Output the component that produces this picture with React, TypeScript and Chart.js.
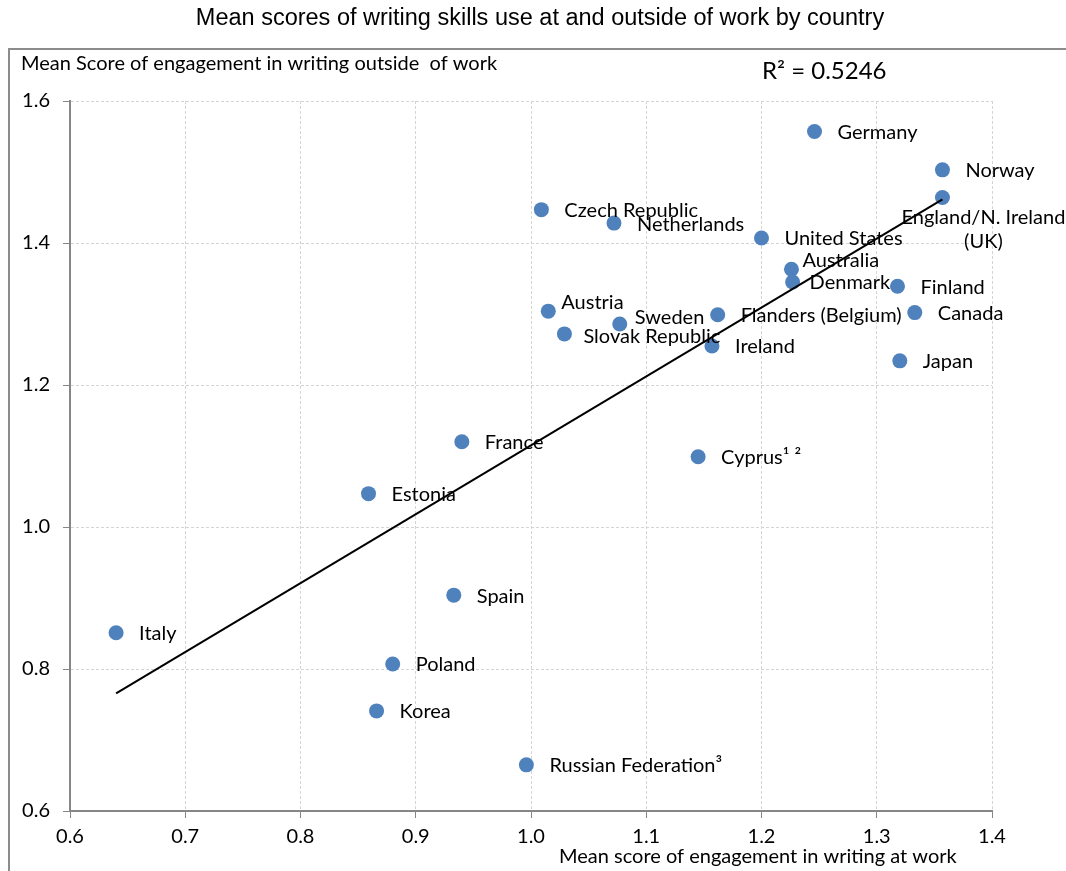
import { useEffect, useRef } from 'react';
import { Chart, registerables } from 'chart.js';

Chart.register(...registerables);

const chartTitle = 'Mean scores of writing skills use at and outside of work by country';
const yAxisTitle = 'Mean Score of engagement in writing outside  of work';
const xAxisTitle = 'Mean score of engagement in writing at work';
const rSquaredText = 'R² = 0.5246';

const countries = [
  'Germany', 'Norway', 'England/N. Ireland\n(UK)', 'Czech Republic', 'Netherlands',
  'United States', 'Australia', 'Denmark', 'Finland', 'Austria', 'Sweden',
  'Flanders (Belgium)', 'Canada', 'Slovak Republic', 'Ireland', 'Japan', 'France',
  'Cyprus¹ ²', 'Estonia', 'Spain', 'Italy', 'Poland', 'Korea', 'Russian Federation³',
];
const atWork = [
  1.246, 1.357, 1.357, 1.009, 1.072, 1.200, 1.226, 1.227, 1.318, 1.015, 1.077,
  1.162, 1.333, 1.029, 1.157, 1.320, 0.940, 1.145, 0.859, 0.933, 0.640, 0.880, 0.866, 0.996,
];
const outsideWork = [
  1.557, 1.503, 1.464, 1.447, 1.428, 1.407, 1.363, 1.345, 1.339, 1.304, 1.286,
  1.299, 1.302, 1.272, 1.255, 1.234, 1.120, 1.099, 1.047, 0.904, 0.851, 0.807, 0.741, 0.665,
];
const trendX = [0.640, 1.357];
const trendY = [0.7656, 1.4615];
const xMin = 0.6, xMax = 1.4, xStep = 0.1;
const yMin = 0.6, yMax = 1.6, yStep = 0.2;

// label placement (layout only)
const defaultPlacement = { dx: 23, dy: 1, align: 'left' as CanvasTextAlign };
const placement: Record<string, { dx: number; dy: number; align: CanvasTextAlign; lineGap?: number }> = {
  Australia: { dx: 11, dy: -9, align: 'left' },
  Denmark: { dx: 17, dy: 0, align: 'left' },
  Austria: { dx: 13, dy: -9, align: 'left' },
  Sweden: { dx: 15, dy: -6, align: 'left' },
  'Slovak Republic': { dx: 19, dy: 3, align: 'left' },
  'England/N. Ireland\n(UK)': { dx: 41, dy: 20, align: 'center', lineGap: 24 },
};

const FONT = 'Lato, "Open Sans", sans-serif';
const TEXT_SIZE = 20;

const overlayPlugin = {
  id: 'overlay',
  afterDraw(chart: any) {
    const ctx = chart.ctx as CanvasRenderingContext2D;
    ctx.save();
    // outer frame
    ctx.strokeStyle = '#8c8c8c';
    ctx.lineWidth = 2;
    ctx.beginPath();
    ctx.moveTo(9, 880);
    ctx.lineTo(9, 49);
    ctx.lineTo(1080, 49);
    ctx.stroke();

    ctx.fillStyle = '#000';
    ctx.textBaseline = 'middle';
    // main title
    ctx.font = '23.5px "Liberation Sans", Arial, sans-serif';
    ctx.textAlign = 'center';
    ctx.fillText(chartTitle, 540, 19);
    // axis titles
    ctx.font = `${TEXT_SIZE}px ${FONT}`;
    ctx.textAlign = 'left';
    ctx.fillText(yAxisTitle, 21, 64);
    ctx.fillText(xAxisTitle, 559, 857);
    // R squared
    ctx.font = `24px ${FONT}`;
    ctx.fillText(rSquaredText, 762, 71);

    // point labels
    ctx.font = `${TEXT_SIZE}px ${FONT}`;
    const meta = chart.getDatasetMeta(1);
    meta.data.forEach((pt: any, i: number) => {
      const name = countries[i];
      const p = placement[name] || defaultPlacement;
      ctx.textAlign = p.align;
      const lines = name.split('\n');
      lines.forEach((line, k) => {
        ctx.fillText(line, pt.x + p.dx, pt.y + p.dy + k * (p.lineGap || 0));
      });
    });
    ctx.restore();
  },
};

export default function App() {
  const ref = useRef<HTMLCanvasElement>(null);
  useEffect(() => {
    if (!ref.current) return;
    const chart = new Chart(ref.current, {
      type: 'scatter',
      data: {
        datasets: [
          {
            label: 'Trend',
            data: trendX.map((x, i) => ({ x, y: trendY[i] })),
            showLine: true,
            borderColor: '#000',
            borderWidth: 2,
            pointRadius: 0,
            order: 0,
          },
          {
            label: 'Countries',
            data: atWork.map((x, i) => ({ x, y: outsideWork[i] })),
            pointRadius: 7.5,
            pointBackgroundColor: '#4F81BD',
            pointBorderColor: '#4F81BD',
            pointBorderWidth: 0,
            order: 1,
          },
        ],
      },
      options: {
        animation: false,
        responsive: false,
        layout: { padding: { left: 0, top: 101, right: 74, bottom: 0 } },
        plugins: { legend: { display: false }, tooltip: { enabled: false }, title: { display: false } },
        scales: {
          x: {
            type: 'linear',
            min: xMin,
            max: xMax,
            ticks: {
              stepSize: xStep,
              color: '#000',
              font: { family: FONT, size: TEXT_SIZE },
              padding: 7,
              callback: (v: any) => Number(v).toFixed(1),
            },
            grid: { color: '#d4d4d4', tickColor: '#868686', tickLength: 7, lineWidth: 1 },
            border: { color: '#868686', width: 2, dash: [3, 2] },
            afterFit: (s: any) => { s.height = 60; },
          },
          y: {
            type: 'linear',
            min: yMin,
            max: yMax,
            ticks: {
              stepSize: yStep,
              color: '#000',
              font: { family: FONT, size: TEXT_SIZE },
              padding: 13,
              callback: (v: any) => Number(v).toFixed(1),
            },
            grid: { color: '#d4d4d4', tickColor: '#868686', tickLength: 7, lineWidth: 1 },
            border: { color: '#868686', width: 2, dash: [3, 2] },
            afterFit: (s: any) => { s.width = 70; },
          },
        },
      },
      plugins: [overlayPlugin],
    });
    return () => chart.destroy();
  }, []);
  return (
    <div style={{ position: 'fixed', left: 0, top: 0, width: 1066, height: 871, background: '#fff' }}>
      <canvas ref={ref} width={1066} height={871} />
    </div>
  );
}
